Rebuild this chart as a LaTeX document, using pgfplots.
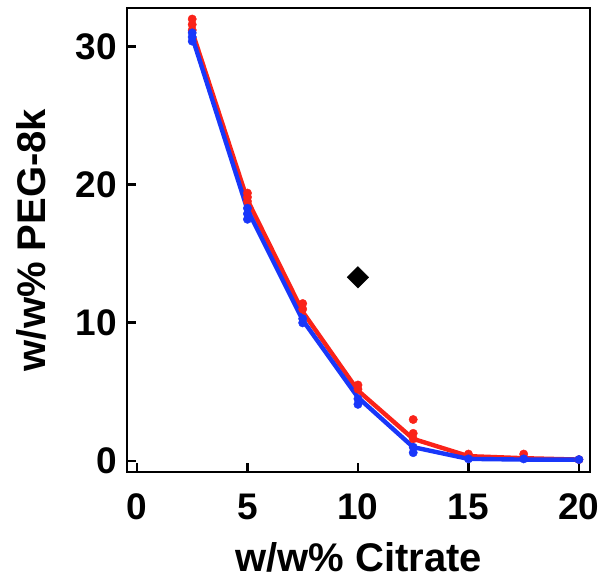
\documentclass[border=0pt]{standalone}
\usepackage{pgfplots}
\pgfplotsset{compat=1.18}
\usepackage{fontspec}
\setmainfont{Liberation Sans}
\definecolor{myred}{RGB}{250,35,25}
\definecolor{myblue}{RGB}{25,55,250}
\begin{document}
\begin{tikzpicture}
\begin{axis}[
  scale only axis,
  width=463pt, height=464pt,
  xmin=-0.45, xmax=20.5, ymin=-0.8, ymax=32.8,
  xtick={0,5,10,15,20}, ytick={0,10,20,30},
  axis line style={line width=2.8pt},
  tick style={line width=2.8pt, black},
  major tick length=9pt,
  tick align=inside,
  xtick pos=bottom, ytick pos=left,
  /pgf/number format/assume math mode=true,
  ticklabel style={font=\fontsize{37}{40}\selectfont\bfseries},
  xticklabel style={anchor=base, yshift=-47pt},
  yticklabel style={anchor=east, inner sep=0pt, xshift=-10pt},
  xlabel={w/w\% Citrate},
  ylabel={w/w\% PEG-8k},
  every axis x label/.style={at={(axis description cs:0.5,-0.2134)}, anchor=base, inner sep=0pt, font=\fontsize{40}{44}\selectfont\bfseries},
  every axis y label/.style={at={(axis description cs:-0.1771,0.5)}, rotate=90, anchor=base, font=\fontsize{40}{44}\selectfont\bfseries},
  clip=false,
]
\coordinate (SW) at (rel axis cs:0,0);
\coordinate (NE) at (rel axis cs:1,1);
\addplot[myred, line width=4.4pt, line join=round] coordinates {
(2.5,31.1) (5,18.9) (7.5,10.8) (10,5.1) (12.5,1.6) (15,0.35) (17.5,0.2) (20,0.1)};
\addplot[only marks, mark=*, mark size=4.2pt, myred] coordinates {
(2.5,32.0) (2.5,31.6) (2.5,31.2)
(5,19.4) (5,19.1) (5,18.8)
(7.5,11.4) (7.5,11.0)
(10,5.5) (10,5.2)
(12.5,3.0) (12.5,2.0) (12.5,1.6)
(15,0.5) (17.5,0.5) (20,0.1)};
\addplot[myblue, line width=4.4pt, line join=round] coordinates {
(2.5,30.7) (5,18.2) (7.5,10.2) (10,4.6) (12.5,1.0) (15,0.15) (17.5,0.1) (20,0.1)};
\addplot[only marks, mark=*, mark size=4.2pt, myblue] coordinates {
(2.5,31.0) (2.5,30.7) (2.5,30.4)
(5,18.3) (5,17.9) (5,17.5)
(7.5,10.3) (7.5,10.0)
(10,4.5) (10,4.1)
(12.5,1.0) (12.5,0.6)
(15,0.15) (17.5,0.15) (20,0.1)};
\addplot[only marks, mark=square*, mark size=7.6pt, mark options={rotate=45}, black] coordinates {(10,13.3)};
\end{axis}
\pgfresetboundingbox
\path ([shift={(-127pt,-107pt)}]SW) rectangle ([shift={(15pt,8pt)}]NE);
\end{tikzpicture}
\end{document}
